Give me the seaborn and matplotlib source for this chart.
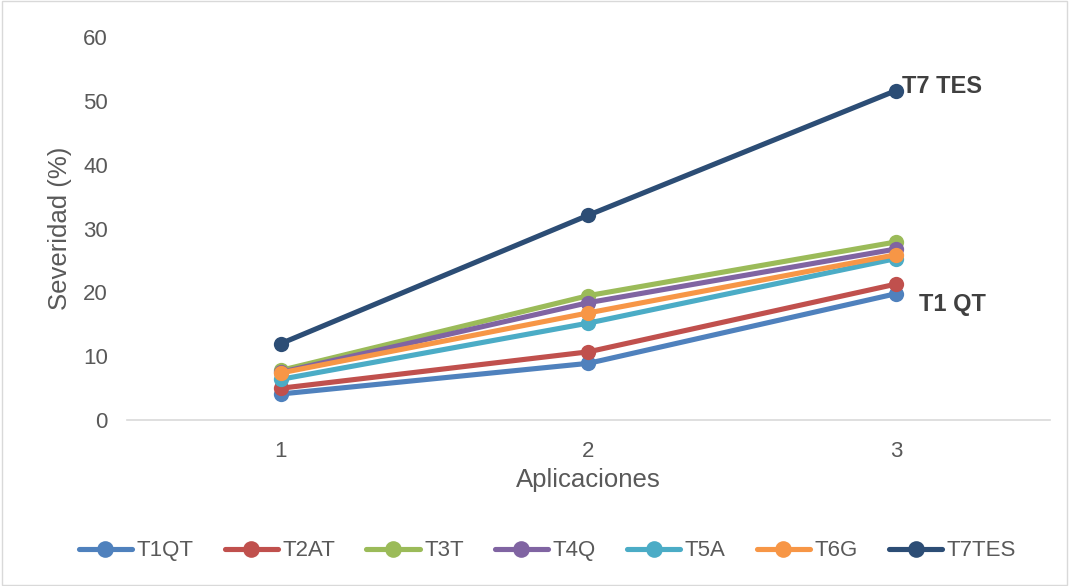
import matplotlib
matplotlib.use("Agg")
import matplotlib.pyplot as plt
import seaborn as sns
import pandas as pd
from matplotlib.lines import Line2D

aplicaciones = [1, 2, 3]
series_names = ["T1QT", "T2AT", "T3T", "T4Q", "T5A", "T6G", "T7TES"]
T1QT = [4.1, 8.9, 19.8]
T2AT = [5.0, 10.7, 21.3]
T3T = [7.8, 19.5, 27.9]
T4Q = [7.5, 18.4, 26.8]
T5A = [6.4, 15.2, 25.3]
T6G = [7.4, 16.8, 25.9]
T7TES = [12.0, 32.1, 51.6]
colors = ["#4F81BD", "#C0504D", "#9BBB59", "#8064A2", "#4BACC6", "#F79646", "#2C4D75"]

values = [T1QT, T2AT, T3T, T4Q, T5A, T6G, T7TES]
rows = []
for name, vals in zip(series_names, values):
    for a, v in zip(aplicaciones, vals):
        rows.append({"Aplicaciones": a, "Severidad": v, "Serie": name})
df = pd.DataFrame(rows)

sns.set_theme(style="white")
plt.rcParams['font.family'] = ['Liberation Sans', 'DejaVu Sans']

fig = plt.figure(figsize=(10.69, 5.86), dpi=100)
ax = fig.add_axes([0.119, 0.283, 0.863, 0.654])
sns.lineplot(data=df, x="Aplicaciones", y="Severidad", hue="Serie",
             hue_order=series_names, palette=colors, marker="o",
             markersize=11, markeredgewidth=0, linewidth=3.7, ax=ax, legend=False)

ax.set_xlim(0.5, 3.5)
ax.set_ylim(0, 60)
ax.set_xticks(aplicaciones)
ax.set_yticks(range(0, 61, 10))
ax.tick_params(axis='y', labelsize=16, labelcolor="#595959", length=0, pad=14)
ax.tick_params(axis='x', labelsize=16, labelcolor="#595959", length=0, pad=15)
ax.set_xlabel("Aplicaciones", fontsize=18.5, color="#595959", labelpad=4)
ax.set_ylabel("Severidad (%)", fontsize=18.5, color="#595959", labelpad=8)
for s in ["top", "right", "left"]:
    ax.spines[s].set_visible(False)
ax.spines["bottom"].set_color("#D9D9D9")
ax.spines["bottom"].set_linewidth(1.2)

ax.text(3.02, 52.3, "T7 TES", fontsize=17, fontweight="bold", color="#404040",
        va="center", ha="left")
ax.text(3.075, 18.1, "T1 QT", fontsize=17, fontweight="bold", color="#404040",
        va="center", ha="left")

handles = [Line2D([0], [0], color=c, lw=3.7, marker="o", markersize=12, markeredgewidth=0)
           for c in colors]
fig.legend(handles, series_names, loc="center", bbox_to_anchor=(0.512, 0.06), ncol=7,
           frameon=False, fontsize=16, handlelength=2.4, handletextpad=0.2,
           columnspacing=1.4, labelcolor="#595959")

border = plt.Rectangle((0.002, 0.002), 0.996, 0.996, transform=fig.transFigure,
                       fill=False, edgecolor="#D9D9D9", lw=1)
fig.patches.append(border)

fig.savefig("out.png", dpi=100)
